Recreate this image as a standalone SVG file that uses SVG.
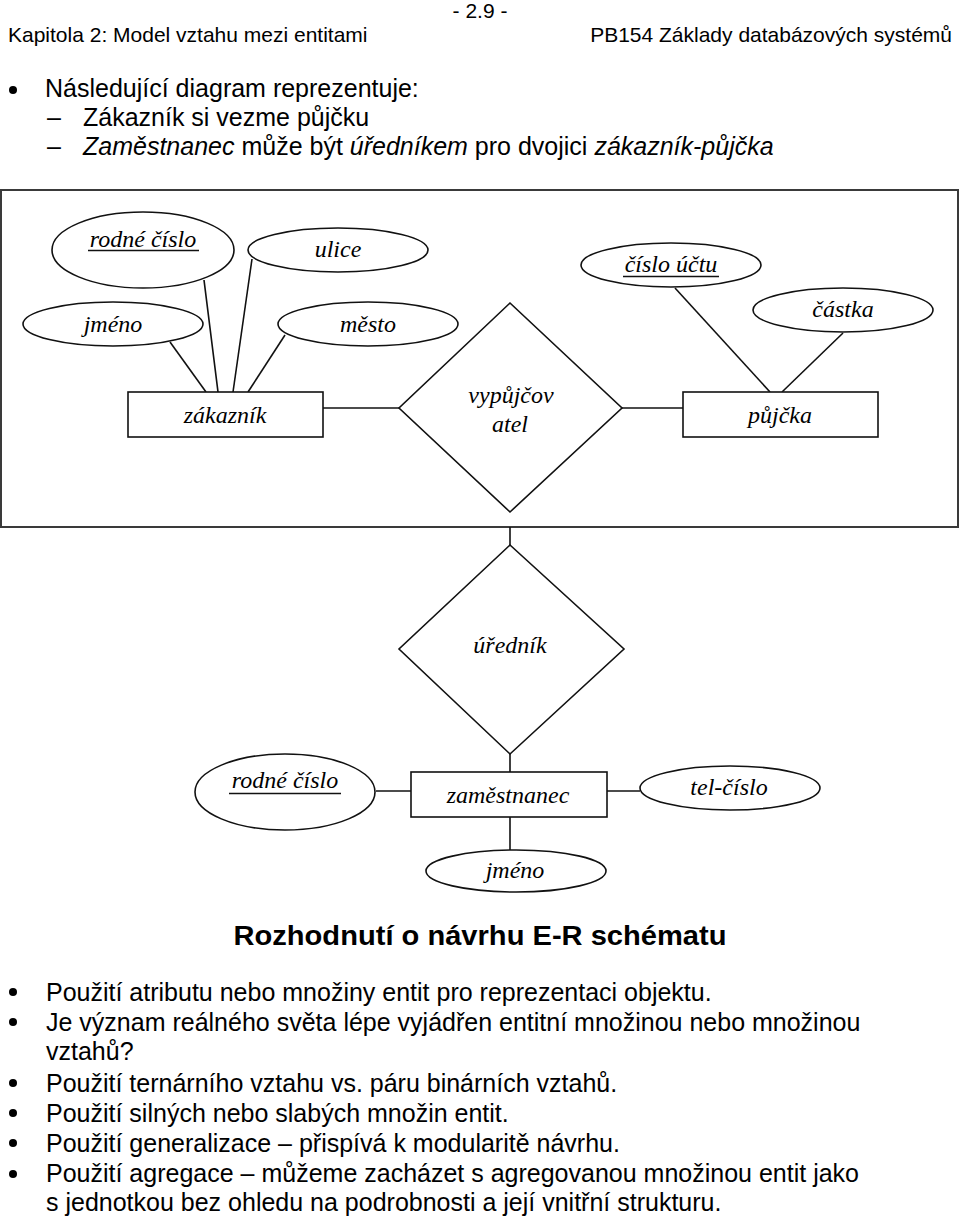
<svg xmlns="http://www.w3.org/2000/svg" width="960" height="1220" viewBox="0 0 960 1220">
<style>
.hdr{font-family:"Liberation Sans",Arial,sans-serif;font-size:21px;fill:#000}
.body{font-family:"Liberation Sans",Arial,sans-serif;font-size:25px;fill:#000}
.it{font-style:italic}
.er{font-family:"Liberation Serif","Times New Roman",serif;font-style:italic;font-size:24px;fill:#000;text-anchor:middle}
.shape{fill:#fff;stroke:#111;stroke-width:1.6}
.conn line{stroke:#111;stroke-width:1.6}
.ul{stroke:#111;stroke-width:1.3}
</style>
<rect width="960" height="1220" fill="#fff"/>
<g id="header">
<text class="hdr" x="480" y="18" text-anchor="middle">- 2.9 -</text>
<text class="hdr" x="8" y="42">Kapitola 2: Model vztahu mezi entitami</text>
<text class="hdr" x="952" y="42" text-anchor="end">PB154 Základy databázových systémů</text>
</g>
<g id="intro">
<circle cx="13" cy="90" r="4"/>
<text class="body" x="45" y="97">Následující diagram reprezentuje:</text>
<text class="body" x="47" y="126">–</text>
<text class="body" x="83" y="126">Zákazník si vezme půjčku</text>
<text class="body" x="47" y="155">–</text>
<text class="body" x="83" y="155"><tspan class="it">Zaměstnanec</tspan> může být <tspan class="it">úředníkem</tspan> pro dvojici <tspan class="it">zákazník-půjčka</tspan></text>
</g>
<rect id="aggregation" x="1" y="190" width="957" height="337" fill="none" stroke="#3a3a3a" stroke-width="2"/>
<g id="connectors" class="conn">
<line x1="170" y1="342" x2="206" y2="392"/>
<line x1="204" y1="280" x2="218" y2="392"/>
<line x1="252" y1="259" x2="233" y2="392"/>
<line x1="285" y1="335" x2="248" y2="392"/>
<line x1="323" y1="408" x2="399" y2="408"/>
<line x1="622" y1="408" x2="683" y2="408"/>
<line x1="675" y1="288" x2="770" y2="392"/>
<line x1="843" y1="333" x2="782" y2="392"/>
<line x1="510" y1="527" x2="510" y2="545"/>
<line x1="510" y1="754" x2="510" y2="772"/>
<line x1="376" y1="791" x2="411" y2="791"/>
<line x1="607" y1="791" x2="640" y2="791"/>
<line x1="510" y1="817" x2="510" y2="850"/>
</g>
<g id="attr-rodne-cislo">
<ellipse class="shape" cx="143" cy="250" rx="91" ry="38"/>
<text class="er" x="143" y="247">rodné číslo</text>
<line class="ul" x1="88" y1="250.5" x2="199" y2="250.5"/>
</g>
<g id="attr-ulice">
<ellipse class="shape" cx="338" cy="250" rx="90" ry="22"/>
<text class="er" x="338" y="257">ulice</text>
</g>
<g id="attr-jmeno">
<ellipse class="shape" cx="113" cy="324" rx="90" ry="22"/>
<text class="er" x="113" y="332">jméno</text>
</g>
<g id="attr-mesto">
<ellipse class="shape" cx="368" cy="324" rx="90" ry="22"/>
<text class="er" x="368" y="332">město</text>
</g>
<g id="ent-zakaznik">
<rect class="shape" x="128" y="392" width="195" height="45"/>
<text class="er" x="225" y="423">zákazník</text>
</g>
<g id="rel-vypujcovatel">
<polygon class="shape" points="510,303 622,408 510,512 399,408"/>
<text class="er" x="511" y="403">vypůjčov</text>
<text class="er" x="510" y="432">atel</text>
</g>
<g id="ent-pujcka">
<rect class="shape" x="683" y="392" width="195" height="45"/>
<text class="er" x="780" y="423">půjčka</text>
</g>
<g id="attr-cislo-uctu">
<ellipse class="shape" cx="671" cy="265" rx="90" ry="22"/>
<text class="er" x="671" y="272">číslo účtu</text>
<line class="ul" x1="623" y1="276.5" x2="719" y2="276.5"/>
</g>
<g id="attr-castka">
<ellipse class="shape" cx="843" cy="310" rx="90" ry="22"/>
<text class="er" x="843" y="317">částka</text>
</g>
<g id="rel-urednik">
<polygon class="shape" points="510,545 624,649 510,754 399,649"/>
<text class="er" x="510" y="653">úředník</text>
</g>
<g id="ent-zamestnanec">
<rect class="shape" x="411" y="772" width="196" height="45"/>
<text class="er" x="508" y="803">zaměstnanec</text>
</g>
<g id="attr-rodne-cislo-2">
<ellipse class="shape" cx="285" cy="792" rx="90" ry="38"/>
<text class="er" x="285" y="788">rodné číslo</text>
<line class="ul" x1="229" y1="793.5" x2="341" y2="793.5"/>
</g>
<g id="attr-tel-cislo">
<ellipse class="shape" cx="730" cy="788" rx="90" ry="22"/>
<text class="er" x="729" y="795">tel-číslo</text>
</g>
<g id="attr-jmeno-2">
<ellipse class="shape" cx="516" cy="871" rx="90" ry="21"/>
<text class="er" x="515" y="878">jméno</text>
</g>
<g id="decisions">
<text x="480" y="945" text-anchor="middle" font-family="Liberation Sans, Arial, sans-serif" font-weight="bold" font-size="27" textLength="493" lengthAdjust="spacingAndGlyphs">Rozhodnutí o návrhu E-R schématu</text>
<circle cx="13" cy="992" r="4"/>
<text class="body" x="46" y="1001">Použití atributu nebo množiny entit pro reprezentaci objektu.</text>
<circle cx="13" cy="1022" r="4"/>
<text class="body" x="46" y="1031">Je význam reálného světa lépe vyjádřen entitní množinou nebo množinou</text>
<text class="body" x="46" y="1060">vztahů?</text>
<circle cx="13" cy="1083" r="4"/>
<text class="body" x="46" y="1092">Použití ternárního vztahu vs. páru binárních vztahů.</text>
<circle cx="13" cy="1113" r="4"/>
<text class="body" x="46" y="1122">Použití silných nebo slabých množin entit.</text>
<circle cx="13" cy="1143" r="4"/>
<text class="body" x="46" y="1152">Použití generalizace – přispívá k modularitě návrhu.</text>
<circle cx="13" cy="1174" r="4"/>
<text class="body" x="46" y="1182">Použití agregace – můžeme zacházet s agregovanou množinou entit jako</text>
<text class="body" x="46" y="1211">s jednotkou bez ohledu na podrobnosti a její vnitřní strukturu.</text>
</g>
</svg>
